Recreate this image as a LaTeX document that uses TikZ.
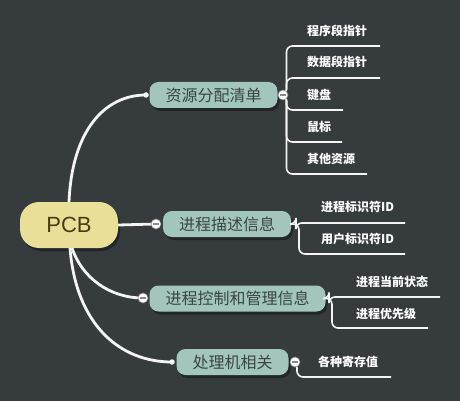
\documentclass[tikz,border=0pt]{standalone}
\usepackage{fontspec}
\setmainfont{Liberation Sans}
\newfontfamily\cjk{Noto Sans CJK SC}
\usetikzlibrary{shadows}
\definecolor{bgc}{HTML}{363B3E}
\definecolor{tealc}{HTML}{A2C5BD}
\definecolor{tealtxt}{HTML}{3A4644}
\definecolor{pcbc}{HTML}{E9DF98}
\definecolor{pcbtxt}{HTML}{4A3C10}
\definecolor{linec}{HTML}{F4F4F4}
\definecolor{minusc}{HTML}{8A8A8A}
\tikzset{
  mnode/.style={fill=tealc, text=tealtxt, rounded corners=9pt, minimum height=26pt, inner xsep=16pt, inner ysep=0pt,
    font=\cjk\fontsize{16}{18}\selectfont,
    drop shadow={shadow xshift=2pt, shadow yshift=-3pt, fill=black, opacity=0.35}},
  pcbnode/.style={fill=pcbc, text=pcbtxt, rounded corners=19pt, minimum width=98pt, minimum height=46pt, inner sep=0pt,
    font=\fontsize{22}{24}\selectfont,
    drop shadow={shadow xshift=2pt, shadow yshift=-3pt, fill=black, opacity=0.35}},
  leaf/.style={text=white, anchor=west, inner sep=0pt, font=\cjk\bfseries\fontsize{12}{14}\selectfont},
  conn/.style={draw=linec, line width=2.8pt},
  branch/.style={draw=linec, line width=1.6pt, rounded corners=6pt},
  collapse/.style={circle, fill=white, draw=minusc, line width=0.6pt, minimum size=10pt, inner sep=0pt,
    path picture={\draw[minusc, line width=1.2pt] ([xshift=-3pt]path picture bounding box.center) -- ([xshift=3pt]path picture bounding box.center);}},
  enddot/.style={circle, fill=linec, minimum size=5.5pt, inner sep=0pt},
}
\begin{document}
\begin{tikzpicture}[x=1pt, y=-1pt]
\useasboundingbox (0,0) rectangle (460,401);
\fill[bgc] (0,0) rectangle (460,401);

% main nodes
\node[pcbnode] (pcb) at (69,225) {PCB};
\node[mnode] (n1) at (213.5,95) {资源分配清单};
\node[mnode] (n2) at (227,224) {进程描述信息};
\node[mnode] (n3) at (237.5,298.5) {进程控制和管理信息};
\node[mnode] (n4) at (232.5,362) {处理机相关};

% anchor points
\coordinate (p1) at (69,202);
\coordinate (p3) at (72,248);
\coordinate (p4) at (70,248);
\node[enddot] (d1) at (146,95) {};
\node[enddot] (d4) at (172,362) {};

% connectors from PCB
\draw[conn] (p1) .. controls (72,130) and (105,95) .. (d1.center);
\draw[conn] (pcb.east) -- (156,224);
\draw[conn] (p3) .. controls (82,278) and (110,298) .. (143,298);
\draw[conn] (p4) .. controls (76,325) and (120,362) .. (d4.center);

% leaf coordinates
\coordinate (u11) at (380,46);
\coordinate (u12) at (380,78);
\coordinate (u13) at (343,110);
\coordinate (u14) at (342,142);
\coordinate (u15) at (367,174);
\coordinate (u21) at (405,223);
\coordinate (u22) at (405,254);
\coordinate (u31) at (440,297);
\coordinate (u32) at (428,328);
\coordinate (u41) at (391,377);

% branches of n1
\foreach \u in {u11,u12,u13,u14,u15}{
  \draw[branch] (283,95) -| (286.5,0 |- \u) -- (\u);
}
% branches of n2
\draw[branch] (n2.east) -| (296,0 |- u21) -- (u21);
\draw[branch] (n2.east) -| (299,0 |- u22) -- (u22);
% branches of n3
\draw[branch] (n3.east) -| (329,0 |- u31) -- (u31);
\draw[branch] (n3.east) -| (332,0 |- u32) -- (u32);
% branch of n4
\draw[branch] (295,362) -| (297,0 |- u41) -- (u41);

% collapse buttons
\node[collapse] (c1) at (283,95) {};
\node[collapse] (c2) at (156,224) {};
\node[collapse] (c3) at (143,298) {};
\node[collapse] (c4) at (295,362) {};

% leaf labels
\node[leaf] (l11) at (307,31) {程序段指针};
\node[leaf] (l12) at (307,62) {数据段指针};
\node[leaf] (l13) at (307,95) {键盘};
\node[leaf] (l14) at (307,127) {鼠标};
\node[leaf] (l15) at (307,159) {其他资源};
\node[leaf] (l21) at (321,207) {进程标识符ID};
\node[leaf] (l22) at (321,239) {用户标识符ID};
\node[leaf] (l31) at (356,282) {进程当前状态};
\node[leaf] (l32) at (356,314) {进程优先级};
\node[leaf] (l41) at (318,362) {各种寄存值};
\end{tikzpicture}
\end{document}
